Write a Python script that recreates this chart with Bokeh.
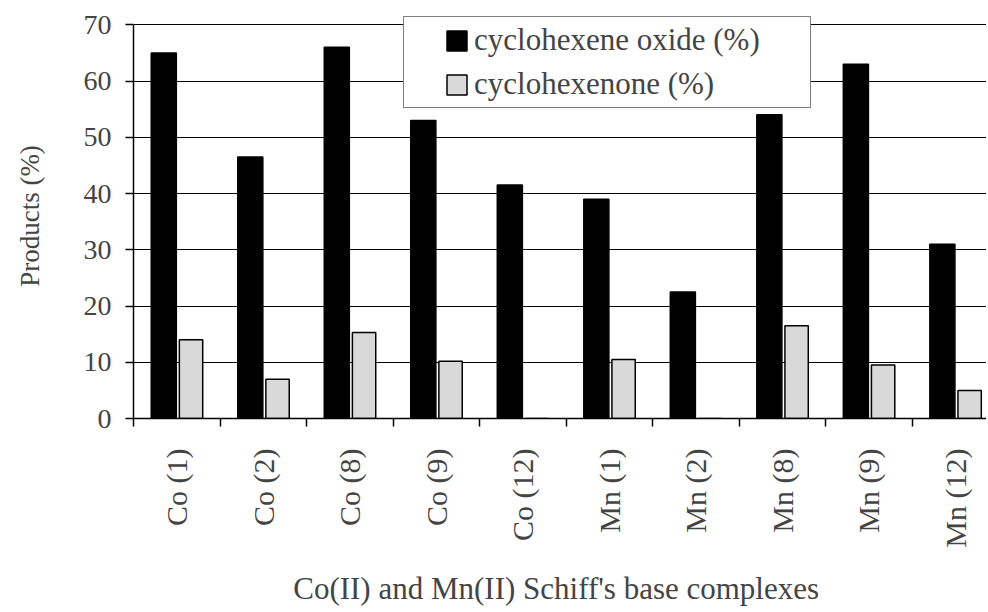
import math
from bokeh.plotting import figure
from bokeh.models import ColumnDataSource, Range1d, FixedTicker, Legend, LegendItem
from bokeh.transform import dodge
from bokeh.embed import file_html
from bokeh.resources import INLINE

categories = ["Co (1)", "Co (2)", "Co (8)", "Co (9)", "Co (12)",
              "Mn (1)", "Mn (2)", "Mn (8)", "Mn (9)", "Mn (12)"]
oxide = [65, 46.5, 66, 53, 41.5, 39, 22.5, 54, 63, 31]
enone = [14, 7, 15.3, 10.2, 0, 10.5, 0, 16.5, 9.5, 5]
y_ticks = [0, 10, 20, 30, 40, 50, 60, 70]
series_names = ["cyclohexene oxide (%)", "cyclohexenone (%)"]

pos = [i + 0.5 for i in range(len(categories))]
bounds = list(range(len(categories) + 1))
src = ColumnDataSource(dict(pos=pos, oxide=oxide, enone=enone, cat=categories))

FONT = "Liberation Serif"

p = figure(width=986, height=612, x_range=Range1d(0, 9.86), y_range=Range1d(0, 72),
           output_backend="svg", toolbar_location=None,
           min_border_left=133, min_border_top=13, min_border_right=0, min_border_bottom=194)
p.background_fill_color = "white"
p.border_fill_color = "white"
p.outline_line_color = None

r1 = p.vbar(x=dodge("pos", -0.15), top="oxide", width=0.29, source=src,
            fill_color="black", line_color="black", line_width=1.5)
r2 = p.vbar(x=dodge("pos", 0.165), top="enone", width=0.27, source=src,
            fill_color="#d9d9d9", line_color="black", line_width=1.5)

# grid
p.xgrid.grid_line_color = None
p.ygrid.ticker = FixedTicker(ticks=y_ticks)
p.ygrid.grid_line_color = "black"
p.ygrid.grid_line_width = 1.1

# y axis
ya = p.yaxis[0]
ya.ticker = FixedTicker(ticks=y_ticks)
ya.bounds = (0, 70)
ya.axis_label = "Products (%)"
ya.axis_label_text_font = FONT
ya.axis_label_text_font_style = "normal"
ya.axis_label_text_font_size = "27px"
ya.axis_label_standoff = 36
ya.major_label_text_font = FONT
ya.major_label_text_font_size = "28px"
ya.major_label_standoff = 14
ya.major_tick_out = 8
ya.major_tick_in = 0
ya.minor_tick_line_color = None
ya.axis_line_color = "black"
ya.axis_line_width = 1.5
ya.major_tick_line_width = 1.5

# x axis
xa = p.xaxis[0]
xa.ticker = FixedTicker(ticks=pos, minor_ticks=bounds)
xa.major_label_overrides = {pv: c for pv, c in zip(pos, categories)}
xa.major_label_orientation = math.pi / 2
xa.major_label_text_font = FONT
xa.major_label_text_font_size = "30px"
xa.major_label_standoff = 22
xa.major_tick_line_color = None
xa.major_tick_out = 0
xa.major_tick_in = 0
xa.minor_tick_out = 8
xa.minor_tick_in = 0
xa.minor_tick_line_color = "black"
xa.minor_tick_line_width = 1.5
xa.axis_line_color = "black"
xa.axis_line_width = 1.5
xa.axis_label = "Co(II) and Mn(II) Schiff's base  complexes"
xa.axis_label_text_font = FONT
xa.axis_label_text_font_style = "normal"
xa.axis_label_text_font_size = "31px"
xa.axis_label_standoff = 20

legend = Legend(items=[LegendItem(label=series_names[0], renderers=[r1]),
                       LegendItem(label=series_names[1], renderers=[r2])],
                location=(270, 310))
legend.title = " "
legend.title_location = "left"
legend.title_text_font_size = "10px"
legend.title_standoff = 24
legend.label_text_font = FONT
legend.label_text_font_size = "31px"
legend.label_height = 36
legend.label_width = 331
legend.label_standoff = 5
legend.glyph_width = 25
legend.glyph_height = 25
legend.spacing = 8
legend.padding = 5
legend.margin = 0
legend.border_line_color = "black"
legend.border_line_width = 1.5
legend.background_fill_color = "white"
legend.background_fill_alpha = 1.0
p.add_layout(legend)

open("out.html", "w").write(file_html(p, INLINE))
